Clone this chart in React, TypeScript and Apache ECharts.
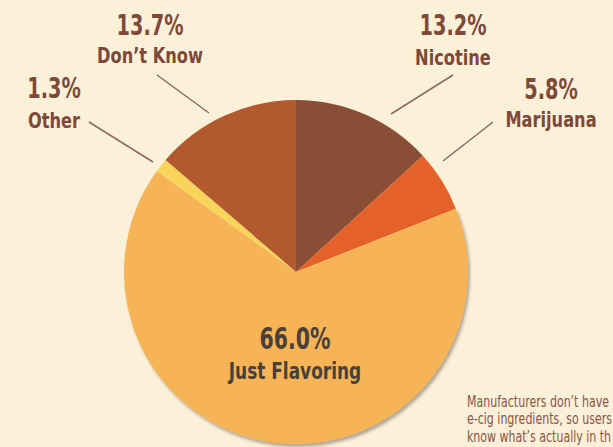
import React, { useEffect, useRef } from "react";
import * as echarts from "echarts";

const categories = ["Nicotine", "Marijuana", "Just Flavoring", "Other", "Don’t Know"];
const shares = [13.2, 5.8, 66.0, 1.3, 13.7];
const sliceColors = ["#8A4E36", "#E5612A", "#F6B457", "#F8D45A", "#B2592E"];
const footnoteLines = [
  "Manufacturers don’t have",
  "e-cig ingredients, so users",
  "know what’s actually in th",
];

// layout (pixel positions: [x, percent y, name y])
const labelPos: [number, number, number][] = [
  [453, 25, 57],
  [551, 89, 119],
  [295, 338, 371],
  [54, 88, 120],
  [150, 25, 55],
];
const leaderLines: ([number, number][] | null)[] = [
  [[453, 75], [391, 114]],
  [[493, 122], [443, 161]],
  null,
  [[89, 122], [153, 162]],
  [[157, 75], [209, 113]],
];
const CENTER_INDEX = 2;

const FONT = "'DejaVu Sans Condensed', 'DejaVu Sans', sans-serif";
const LABEL_COLOR = "#7E4938";
const CENTER_COLOR = "#4A403A";

export default function App() {
  const ref = useRef<HTMLDivElement>(null);
  useEffect(() => {
    if (!ref.current) return;
    const chart = echarts.init(ref.current, null, { renderer: "svg" });
    const data = categories.map((name, i) => ({
      name,
      value: shares[i],
      itemStyle:
        i === CENTER_INDEX
          ? {
              color: sliceColors[i],
              shadowColor: "rgba(90,80,70,0.45)",
              shadowBlur: 3,
              shadowOffsetX: 2,
              shadowOffsetY: 3,
            }
          : { color: sliceColors[i] },
    }));

    const graphics: any[] = [];
    categories.forEach((name, i) => {
      const [x, py, ny] = labelPos[i];
      const isCenter = i === CENTER_INDEX;
      const color = isCenter ? CENTER_COLOR : LABEL_COLOR;
      graphics.push({
        type: "text",
        x,
        y: py,
        scaleX: isCenter ? 0.76 : 0.74,
        silent: true,
        z: 10,
        style: {
          text: `${shares[i].toFixed(1)}%`,
          fontFamily: FONT,
          fontWeight: "bold",
          fontSize: isCenter ? 30 : 29,
          fill: color,
          textAlign: "center",
          textVerticalAlign: "middle",
        },
      });
      graphics.push({
        type: "text",
        x,
        y: ny,
        scaleX: 0.82,
        silent: true,
        z: 10,
        style: {
          text: name,
          fontFamily: FONT,
          fontWeight: "bold",
          fontSize: isCenter ? 23 : 22,
          fill: color,
          textAlign: "center",
          textVerticalAlign: "middle",
        },
      });
      const ll = leaderLines[i];
      if (ll) {
        graphics.push({
          type: "line",
          silent: true,
          shape: { x1: ll[0][0], y1: ll[0][1], x2: ll[1][0], y2: ll[1][1] },
          style: { stroke: "#8E6A58", lineWidth: 1.5 },
        });
      }
    });
    footnoteLines.forEach((t, k) => {
      graphics.push({
        type: "text",
        x: 467,
        y: 401 + k * 17.5,
        scaleX: 0.79,
        silent: true,
        style: {
          text: t,
          fontFamily: FONT,
          fontSize: 15.5,
          fill: "#8A5646",
          textAlign: "left",
          textVerticalAlign: "middle",
        },
      });
    });

    chart.setOption({
      animation: false,
      backgroundColor: "#FBF0D8",
      graphic: graphics,
      series: [
        {
          type: "pie",
          center: [296, 272],
          radius: [0, 172],
          startAngle: 90,
          clockwise: true,
          data,
          itemStyle: { borderWidth: 0 },
          label: { show: false },
          labelLine: { show: false },
        },
      ],
    });
    return () => chart.dispose();
  }, []);
  return (
    <div
      ref={ref}
      style={{ position: "fixed", left: 0, top: 0, width: 613, height: 447, background: "#FBF0D8" }}
    />
  );
}
